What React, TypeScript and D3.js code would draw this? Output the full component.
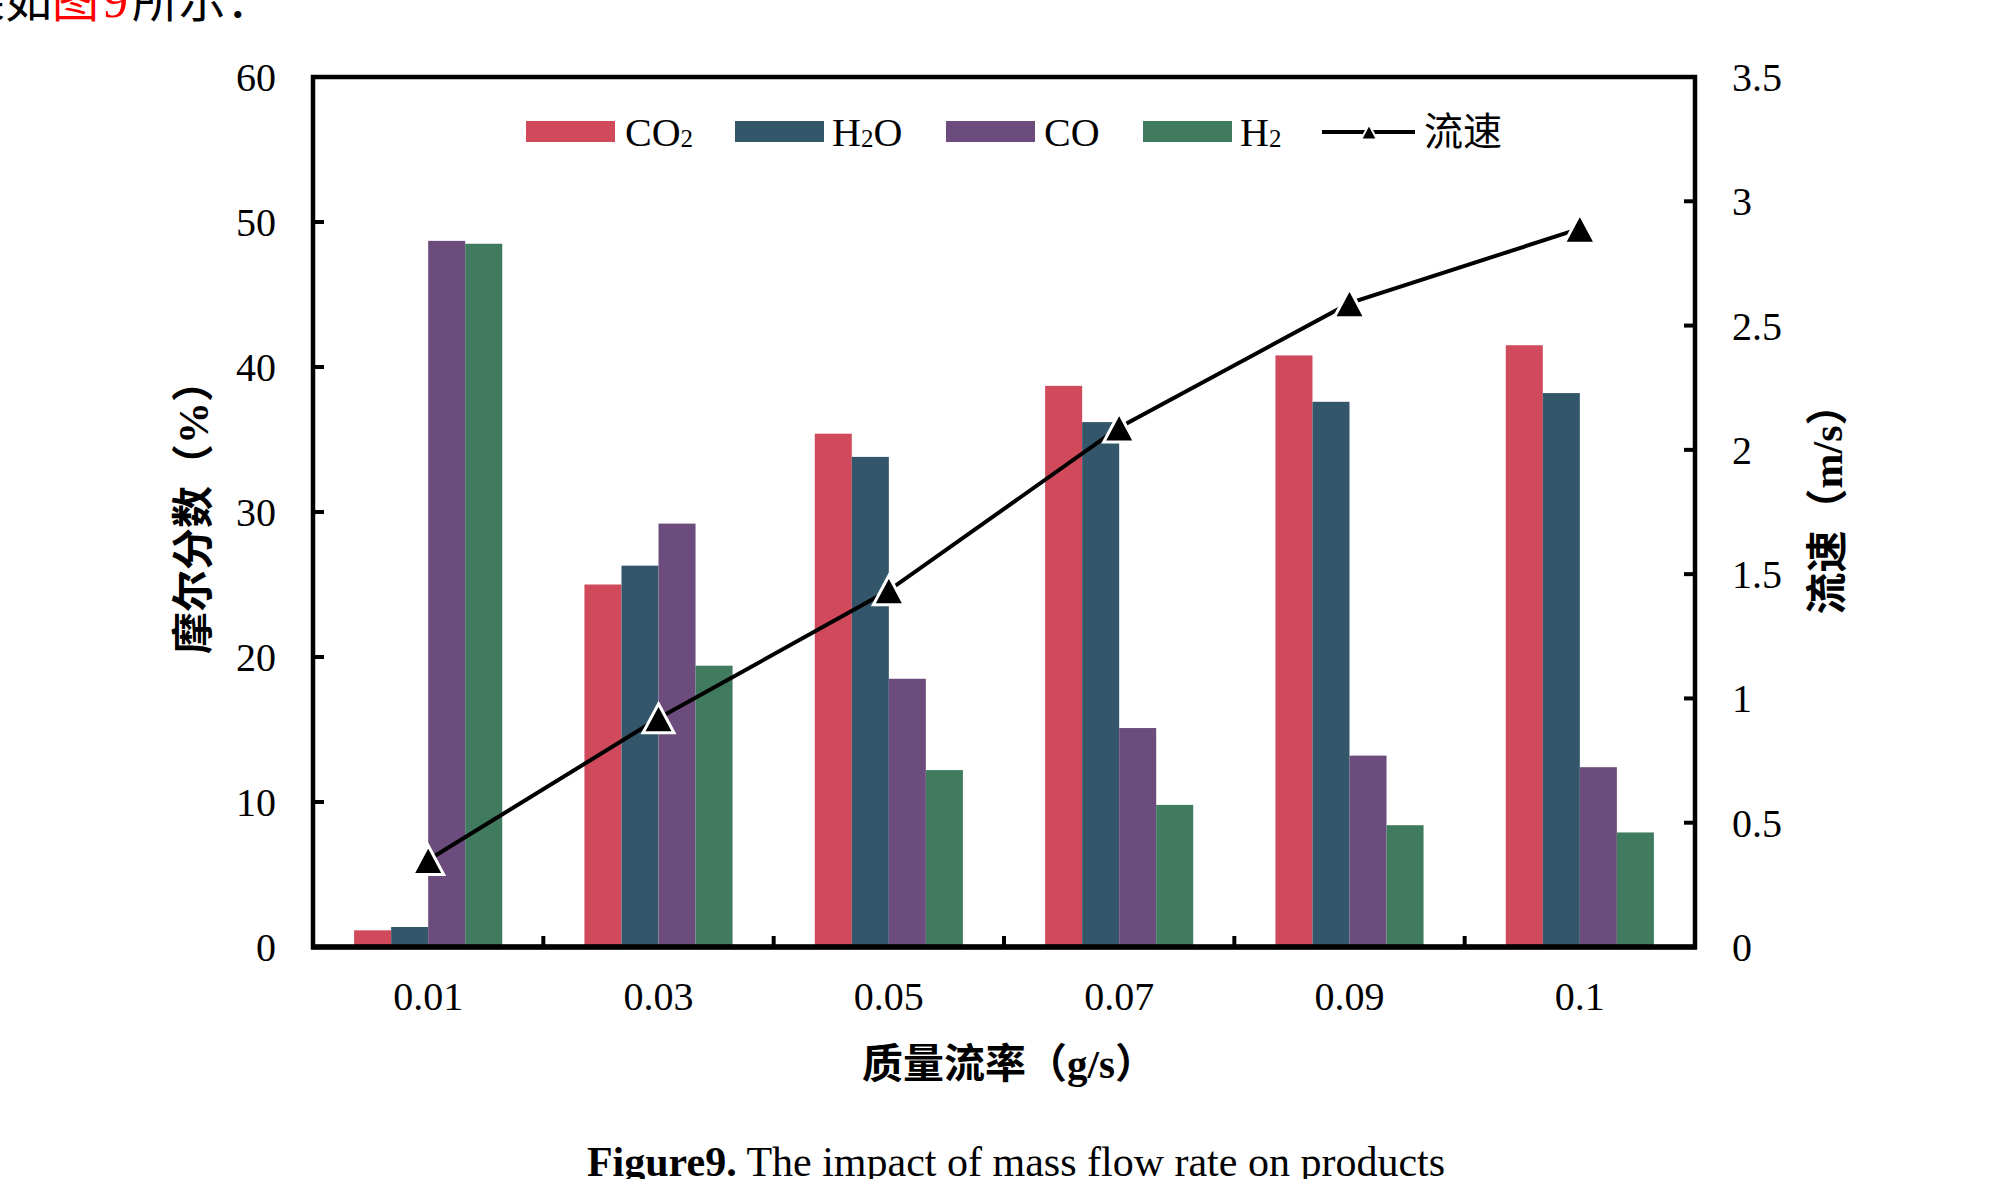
import React from 'react';
import * as d3 from 'd3';

// ---------- data ----------
const categories = ['0.01', '0.03', '0.05', '0.07', '0.09', '0.1'];
const seriesKeys = ['CO2', 'H2O', 'CO', 'H2'];
const co2 = [1.15, 25.0, 35.4, 38.7, 40.8, 41.5];
const h2o = [1.38, 26.3, 33.8, 36.2, 37.6, 38.2];
const co = [48.7, 29.2, 18.5, 15.1, 13.2, 12.4];
const h2 = [48.5, 19.4, 12.2, 9.8, 8.4, 7.9];
const velocity = [0.35, 0.92, 1.435, 2.09, 2.59, 2.89];
const leftTicks = [0, 10, 20, 30, 40, 50, 60];
const rightTicks = [0, 0.5, 1, 1.5, 2, 2.5, 3, 3.5];
const legendLabels: [string, string, string][] = [
  ['CO', '2', ''],
  ['H', '2', 'O'],
  ['CO', '', ''],
  ['H', '2', ''],
];
const lineLabel = '流速';
const yLeftTitle = '摩尔分数（%）';
const yRightTitle = '流速（m/s）';
const xTitle = '质量流率（g/s）';

// ---------- styles / layout ----------
const colors = ['#D14A5B', '#33566B', '#6C4C7C', '#407B60'];
const SERIF = "'Liberation Serif', 'Times New Roman', 'Noto Sans CJK SC', serif";
const CJK = "'Liberation Serif', 'Noto Sans CJK SC', sans-serif";
const W = 2000;
const H = 1179;
const L = 313, R = 1695, T = 77, B = 947;
const legendSwatchX = [526, 735, 946, 1143];
const legendTextX = [625, 832, 1044, 1240];

function triPath(cx: number, cy: number, w: number, h: number) {
  const p = d3.path();
  p.moveTo(cx, cy - h / 2);
  p.lineTo(cx + w / 2, cy + h / 2);
  p.lineTo(cx - w / 2, cy + h / 2);
  p.closePath();
  return p.toString();
}

export default function App() {
  const allSeries = [co2, h2o, co, h2];
  const x = d3.scaleBand<string>().domain(categories).range([L, R]).paddingInner(0).paddingOuter(0);
  const xs = d3.scaleBand<string>().domain(seriesKeys).range([0, x.bandwidth()]).paddingInner(0).paddingOuter(1.11);
  const yL = d3.scaleLinear().domain([0, 60]).range([B, T]);
  const yR = d3.scaleLinear().domain([0, 3.5]).range([B, T]);

  const line = d3
    .line<number>()
    .x((_, i) => (x(categories[i]) as number) + x.bandwidth() / 2)
    .y((d) => yR(d));

  const boundaries = categories.slice(1).map((c) => x(c) as number);

  return (
    <svg
      width={W}
      height={H}
      viewBox={`0 0 ${W} ${H}`}
      style={{ position: 'absolute', left: 0, top: 0, background: '#fff' }}
    >
      <rect x={0} y={0} width={W} height={H} fill="#fff" />

      {/* partial paragraph text at top */}
      <text x={-42} y={17} fontFamily={CJK} fontSize={47} fill="#000">
        果如<tspan fill="#FF0000">图</tspan>
        <tspan fill="#FF0000" fontFamily={SERIF} fontSize={50} dx={4}>9</tspan>
        <tspan dx={4}>所示：</tspan>
      </text>

      {/* bars */}
      {allSeries.map((vals, si) =>
        vals.map((v, ci) => (
          <rect
            key={`${si}-${ci}`}
            x={(x(categories[ci]) as number) + (xs(seriesKeys[si]) as number)}
            y={yL(v)}
            width={xs.bandwidth()}
            height={B - yL(v)}
            fill={colors[si]}
          />
        ))
      )}

      {/* frame */}
      <rect x={L} y={T} width={R - L} height={B - T} fill="none" stroke="#000" strokeWidth={4.5} />
      <line x1={L - 2} x2={R + 2} y1={B} y2={B} stroke="#000" strokeWidth={5.5} />

      {/* left ticks */}
      {leftTicks.map((t) => (
        <g key={`l${t}`}>
          {t > 0 && t < 60 && <line x1={L} x2={L + 11} y1={yL(t)} y2={yL(t)} stroke="#000" strokeWidth={4} />}
          <text x={276} y={yL(t) + 14} textAnchor="end" fontFamily={SERIF} fontSize={40} fill="#000">
            {t}
          </text>
        </g>
      ))}

      {/* right ticks */}
      {rightTicks.map((t) => (
        <g key={`r${t}`}>
          {t > 0 && t < 3.5 && <line x1={R - 11} x2={R} y1={yR(t)} y2={yR(t)} stroke="#000" strokeWidth={4} />}
          <text x={1732} y={yR(t) + 14} textAnchor="start" fontFamily={SERIF} fontSize={40} fill="#000">
            {String(t)}
          </text>
        </g>
      ))}

      {/* bottom ticks at category boundaries */}
      {boundaries.map((bx, i) => (
        <line key={`b${i}`} x1={bx} x2={bx} y1={B} y2={B - 11} stroke="#000" strokeWidth={4} />
      ))}
      {categories.map((c) => (
        <text
          key={`xl${c}`}
          x={(x(c) as number) + x.bandwidth() / 2}
          y={1010}
          textAnchor="middle"
          fontFamily={SERIF}
          fontSize={40}
          fill="#000"
        >
          {c}
        </text>
      ))}

      {/* velocity line */}
      <path d={line(velocity) as string} fill="none" stroke="#000" strokeWidth={4} />
      {velocity.map((v, i) => (
        <path
          key={`m${i}`}
          d={triPath((x(categories[i]) as number) + x.bandwidth() / 2, yR(v), 31, 29)}
          fill="#000"
          stroke="#fff"
          strokeWidth={3}
          strokeLinejoin="miter"
        />
      ))}

      {/* legend */}
      {legendLabels.map((lab, i) => (
        <g key={`lg${i}`}>
          <rect x={legendSwatchX[i]} y={121} width={89} height={21} fill={colors[i]} />
          <text x={legendTextX[i]} y={146} fontFamily={SERIF} fontSize={40} fill="#000">
            {lab[0]}
            {lab[1] && (
              <tspan fontSize={25} dy={1}>
                {lab[1]}
              </tspan>
            )}
            {lab[2] && <tspan dy={-1}>{lab[2]}</tspan>}
          </text>
        </g>
      ))}
      <line x1={1322} x2={1415} y1={132} y2={132} stroke="#000" strokeWidth={4} />
      <path d={triPath(1369, 132, 16, 15)} fill="#000" stroke="#fff" strokeWidth={2} />
      <text x={1424} y={145} fontFamily={CJK} fontSize={39} fill="#000">
        {lineLabel}
      </text>

      {/* axis titles */}
      <text
        transform={`translate(194,507) rotate(-90)`}
        textAnchor="middle"
        dominantBaseline="central"
        fontFamily={CJK}
        fontWeight="bold"
        fontSize={42}
        fill="#000"
      >
        {yLeftTitle}
      </text>
      <text
        transform={`translate(1828,499) rotate(-90)`}
        textAnchor="middle"
        dominantBaseline="central"
        fontFamily={CJK}
        fontWeight="bold"
        fontSize={42}
        fill="#000"
      >
        {yRightTitle}
      </text>
      <text x={1009} y={1078} textAnchor="middle" fontFamily={CJK} fontWeight="bold" fontSize={41} fill="#000">
        {xTitle}
      </text>

      {/* caption */}
      <text x={1016} y={1176} textAnchor="middle" fontFamily={SERIF} fontSize={42} fill="#000">
        <tspan fontWeight="bold">Figure9.</tspan> The impact of mass flow rate on products
      </text>
    </svg>
  );
}
